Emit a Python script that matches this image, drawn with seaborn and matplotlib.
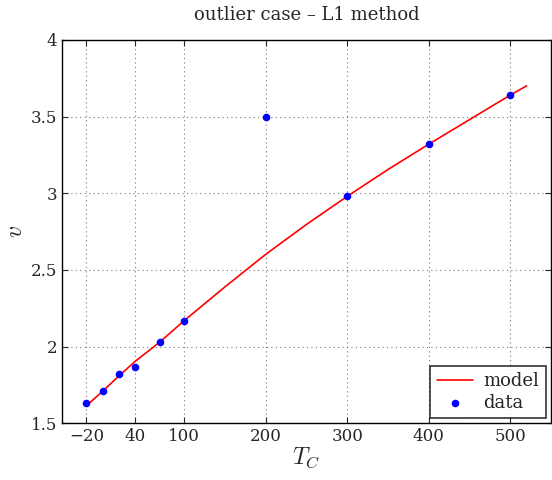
import matplotlib
matplotlib.use("Agg")
import matplotlib.pyplot as plt
import seaborn as sns
import pandas as pd

# data points
data_T = [-20, 0, 20, 40, 70, 100, 200, 300, 400, 500]
data_v = [1.63, 1.71, 1.82, 1.87, 2.03, 2.17, 3.50, 2.98, 3.32, 3.64]

# model curve
model_T = [-20, 0, 20, 40, 70, 100, 150, 200, 250, 300, 350, 400, 450, 500, 520]
model_v = [1.615, 1.71, 1.81, 1.905, 2.03, 2.17, 2.39, 2.602, 2.797, 2.98, 3.155, 3.32, 3.48, 3.64, 3.70]

xticks = [-20, 40, 100, 200, 300, 400, 500]
xticklabels = ["\u221220", "40", "100", "200", "300", "400", "500"]
yticks = [1.5, 2, 2.5, 3, 3.5, 4]
yticklabels = ["1.5", "2", "2.5", "3", "3.5", "4"]

sns.set_style("ticks")
plt.rcParams["font.family"] = ["DejaVu Serif"]
plt.rcParams["mathtext.fontset"] = "cm"

fig = plt.figure(figsize=(5.52, 4.8), dpi=100)
ax = fig.add_axes([0.1123, 0.118, 0.886, 0.799])

df_model = pd.DataFrame({"T": model_T, "v": model_v})
df_data = pd.DataFrame({"T": data_T, "v": data_v})

sns.lineplot(data=df_model, x="T", y="v", ax=ax, color="red", linewidth=1.2, label="model")
sns.scatterplot(data=df_data, x="T", y="v", ax=ax, color="blue", s=30, edgecolor="blue",
                linewidth=0, label="data", zorder=3)

ax.set_xlim(-50, 550)
ax.set_ylim(1.5, 4)
ax.set_xticks(xticks)
ax.set_xticklabels(xticklabels)
ax.set_yticks(yticks)
ax.set_yticklabels(yticklabels)
ax.tick_params(direction="in", top=True, right=True, labelsize=12, length=4, width=0.8)
ax.grid(True, linestyle=(0, (1, 3)), color="#777777", linewidth=0.8)
for s in ax.spines.values():
    s.set_linewidth(1.0)
    s.set_color("black")

ax.set_title("outlier case \u2013 L1 method", fontsize=13, pad=14)
ax.set_xlabel("$T_C$", fontsize=17, labelpad=0)
ax.set_ylabel("$v$", fontsize=17, labelpad=3)

leg = ax.legend(loc="lower right", fontsize=13, frameon=True, fancybox=False,
                edgecolor="black", borderaxespad=0.3, handlelength=2.0,
                borderpad=0.35, labelspacing=0.2, handletextpad=0.6)
leg.get_frame().set_linewidth(1.2)

fig.savefig("out.png", dpi=100)
